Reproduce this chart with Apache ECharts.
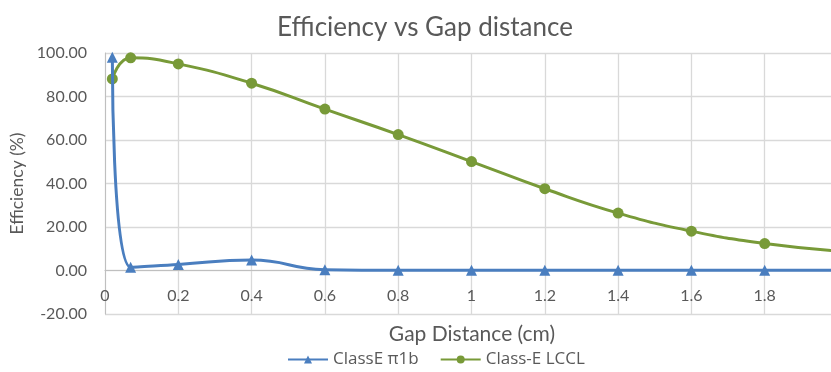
<!DOCTYPE html>
<html>
<head>
<meta charset="utf-8">
<script src="https://cdn.jsdelivr.net/npm/echarts@6/dist/echarts.min.js"></script>
<style>
  html, body { margin: 0; padding: 0; background: #ffffff; }
  #chart { width: 831px; height: 372px; }
</style>
</head>
<body>
<div id="chart"></div>
<script>
// Gap distance in cm (shared by both series)
const gapCm = [0.02, 0.07, 0.2, 0.4, 0.6, 0.8, 1.0, 1.2, 1.4, 1.6, 1.8, 2.0];
// Efficiency (%) for each amplifier topology
const classEPi1b = [98.0, 1.5, 2.8, 4.8, 0.4, 0.1, 0.1, 0.1, 0.1, 0.1, 0.1, 0.1];
const classELccl = [88.1, 97.8, 95.0, 86.1, 74.2, 62.5, 50.1, 37.6, 26.4, 18.1, 12.4, 9.0];

const seriesNames = ['ClassE \u03c01b', 'Class-E LCCL'];
const chartTitle = 'Efficiency vs Gap distance';
const xTitle = 'Gap Distance (cm)';
const yTitle = 'Efficiency (%)';

const yMin = -20, yMax = 100;
const plotHeight = 261;
// the category axis crosses the value axis at 0, so lift it from the bottom by |yMin|
const xAxisLift = plotHeight * (0 - yMin) / (yMax - yMin);

const textColor = '#595959';
const gridColor = '#d9d9d9';
const fontFamily = 'Lato, "Noto Sans", sans-serif';

const pairs = (ys) => gapCm.map((x, i) => [x, ys[i]]);

const chart = echarts.init(document.getElementById('chart'), null, { renderer: 'canvas' });
chart.setOption({
  animation: false,
  backgroundColor: '#ffffff',
  textStyle: { fontFamily: fontFamily },
  title: [
    {
      text: chartTitle,
      left: 420,
      textAlign: 'center',
      top: 10,
      textStyle: { color: textColor, fontSize: 26, fontWeight: 'normal', fontFamily: fontFamily }
    },
    {
      // x-axis title, placed under the bottom gridline
      text: xTitle,
      left: 472,
      textAlign: 'center',
      top: 324,
      padding: 0,
      textStyle: { color: textColor, fontSize: 21, fontWeight: 'normal', fontFamily: fontFamily }
    }
  ],
  legend: {
    top: 351,
    left: 287,
    itemWidth: 40,
    itemHeight: 10,
    itemGap: 21,
    padding: 0,
    textStyle: { color: textColor, fontSize: 17, fontFamily: '"Open Sans", sans-serif' },
    data: seriesNames
  },
  grid: {
    left: 105,
    top: 53,
    width: 733,
    height: plotHeight,
    containLabel: false,
    outerBoundsMode: 'none'
  },
  xAxis: {
    type: 'value',
    min: 0,
    max: 2,
    interval: 0.2,
    offset: -xAxisLift,
    axisLine: { show: true, onZero: false, lineStyle: { color: '#bfbfbf', width: 1 } },
    axisTick: { show: false },
    axisLabel: { color: textColor, fontSize: 16, margin: 17, showMaxLabel: false },
    splitLine: { show: true, lineStyle: { color: gridColor, width: 1.3 } }
  },
  yAxis: {
    type: 'value',
    min: yMin,
    max: yMax,
    interval: 20,
    name: yTitle,
    nameLocation: 'middle',
    nameGap: 64,
    nameRotate: 90,
    nameTextStyle: { color: textColor, fontSize: 17.5, fontFamily: fontFamily },
    axisLine: { show: true, lineStyle: { color: '#bfbfbf', width: 1 } },
    axisTick: { show: false },
    axisLabel: {
      color: textColor,
      fontSize: 16,
      margin: 18,
      formatter: (v) => v.toFixed(2)
    },
    splitLine: { show: true, lineStyle: { color: gridColor, width: 1.3 } }
  },
  series: [
    {
      name: seriesNames[0],
      type: 'line',
      data: pairs(classEPi1b),
      smooth: 0.5,
      symbol: 'triangle',
      symbolSize: 11,
      itemStyle: { color: '#4a7ebf' },
      lineStyle: { color: '#4a7ebf', width: 3 },
      z: 3
    },
    {
      name: seriesNames[1],
      type: 'line',
      data: pairs(classELccl),
      smooth: 0.5,
      symbol: 'circle',
      symbolSize: 11,
      itemStyle: { color: '#789a38' },
      lineStyle: { color: '#789a38', width: 3 },
      z: 2
    }
  ]
});
</script>
</body>
</html>
